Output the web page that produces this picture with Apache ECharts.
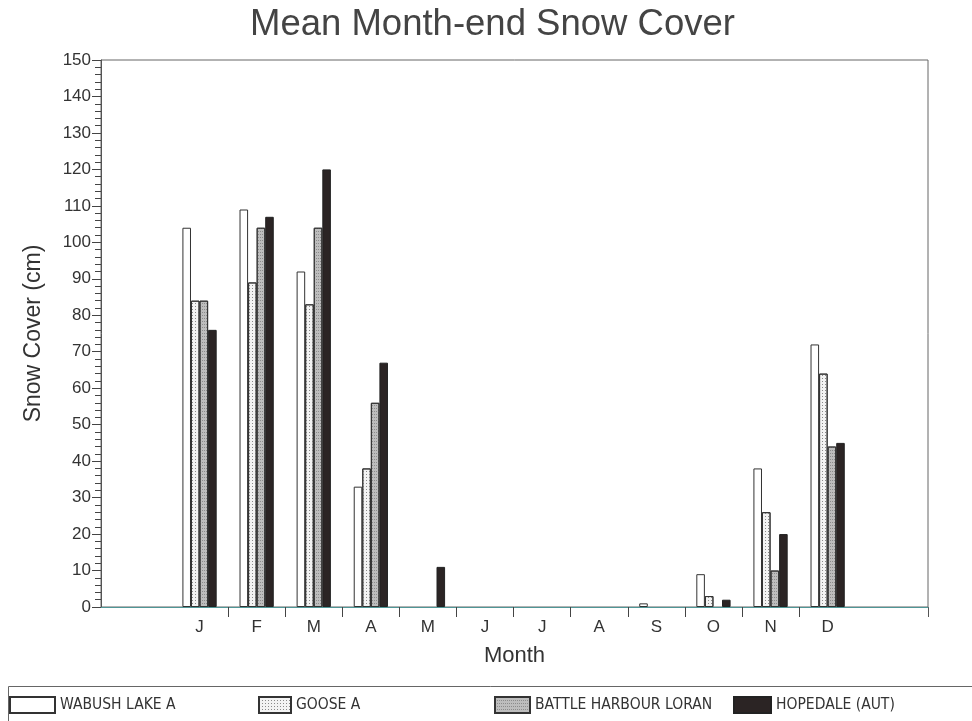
<!DOCTYPE html>
<html>
<head>
<meta charset="utf-8">
<title>Mean Month-end Snow Cover</title>
<script src="https://cdn.jsdelivr.net/npm/echarts@6/dist/echarts.min.js"></script>
<style>
  html, body { margin: 0; padding: 0; background: #ffffff; }
  #chart { width: 972px; height: 721px; }
</style>
</head>
<body>
<div id="chart"></div>
<script>
// Month-end mean snow depth (cm) at four Labrador stations
const months = ['J', 'F', 'M', 'A', 'M', 'J', 'J', 'A', 'S', 'O', 'N', 'D'];
const wabushLakeA = [104, 109, 92, 33, 0, 0, 0, 0, 1, 9, 38, 72];
const gooseA = [84, 89, 83, 38, 0, 0, 0, 0, 0, 3, 26, 64];
const battleHarbourLoran = [84, 104, 104, 56, 0, 0, 0, 0, 0, 0, 10, 44];
const hopedaleAut = [76, 107, 120, 67, 11, 0, 0, 0, 0, 2, 20, 45];

const stationNames = ['WABUSH LAKE A', 'GOOSE A', 'BATTLE HARBOUR LORAN', 'HOPEDALE (AUT)'];
const yTicks = { min: 0, max: 150, step: 10 };

const FONT = '"Liberation Sans", Arial, sans-serif';
const LEGEND_FONT = '"DejaVu Sans Condensed", "Liberation Sans Narrow", sans-serif';

// Frame box: 101..928 horizontally, 60..607 vertically
const frame = { left: 101, right: 44, top: 60, bottom: 114 };
// One month slot is ~57.1px wide; the twelve months sit centred in the frame
const slot = 57.1;
const barsLeft = 171;

const chart = echarts.init(document.getElementById('chart'), null, { renderer: 'canvas' });

const barStyles = [
  { color: '#ffffff', borderColor: '#333', borderWidth: 1 },
  {
    color: '#f3f3f3', borderColor: '#333', borderWidth: 1,
    decal: { symbol: 'rect', symbolSize: 1, dashArrayX: [1, 2], dashArrayY: [1, 2], color: '#8a8a8a', rotation: 0 }
  },
  {
    color: '#bdbdbd', borderColor: '#333', borderWidth: 1,
    decal: { symbol: 'rect', symbolSize: 1, dashArrayX: [1, 1], dashArrayY: [1, 2], color: '#8c8c8c', rotation: 0 }
  },
  { color: '#2b2424', borderColor: '#222', borderWidth: 1 }
];

const seriesData = [wabushLakeA, gooseA, battleHarbourLoran, hopedaleAut];

// A zero reading leaves no outline on the baseline
function barItems(values) {
  return values.map(v => (v === 0 ? { value: v, itemStyle: { borderWidth: 0, opacity: 0 } } : v));
}

const legendLefts = [9, 258, 494, 733];
const legendSwatchWidths = [45, 32, 35, 37];

const option = {
  backgroundColor: '#ffffff',
  animation: false,
  title: {
    text: 'Mean Month-end Snow Cover',
    left: 250,
    top: 6,
    padding: 0,
    textStyle: { fontFamily: FONT, fontSize: 36.5, fontWeight: 'normal', color: '#444' }
  },
  legend: stationNames.map((name, i) => ({
    data: [name],
    left: legendLefts[i],
    top: 696,
    padding: 0,
    itemWidth: legendSwatchWidths[i],
    itemHeight: 16,
    itemGap: 6,
    icon: 'rect',
    textStyle: { fontFamily: LEGEND_FONT, fontSize: 15.5, color: '#333', padding: [0, 0, 0, 0] }
  })),
  grid: [
    { left: frame.left, right: frame.right, top: frame.top, bottom: frame.bottom,
      show: true, borderColor: '#666', borderWidth: 1, backgroundColor: '#ffffff' },
    { left: barsLeft, width: slot * 12, top: frame.top, bottom: frame.bottom },
    { left: barsLeft + slot, width: slot * 10, top: frame.top, bottom: frame.bottom }
  ],
  xAxis: [
    {
      gridIndex: 0, type: 'value', min: 0, max: 1,
      name: 'Month', nameLocation: 'middle', nameGap: 38,
      nameTextStyle: { fontFamily: FONT, fontSize: 22, color: '#333' },
      axisLine: { show: true, lineStyle: { color: '#4f9696', width: 1.2 } },
      axisTick: { show: false }, axisLabel: { show: false }, splitLine: { show: false }
    },
    {
      gridIndex: 1, type: 'category', data: months,
      axisLine: { show: false }, axisTick: { show: false },
      axisLabel: { fontFamily: FONT, fontSize: 17, color: '#333', margin: 12 },
      splitLine: { show: false }
    },
    {
      // tick marks between the month groups
      gridIndex: 2, type: 'value', min: 0, max: 10, interval: 1,
      axisLine: { show: false },
      axisTick: { show: true, inside: false, length: 10, lineStyle: { color: '#444', width: 1 } },
      axisLabel: { show: false }, splitLine: { show: false }
    }
  ],
  yAxis: [
    {
      gridIndex: 0, type: 'value', min: yTicks.min, max: yTicks.max, interval: yTicks.step,
      name: 'Snow Cover (cm)', nameLocation: 'middle', nameGap: 56, nameRotate: 90,
      nameTextStyle: { fontFamily: FONT, fontSize: 23, color: '#333' },
      axisLine: { show: true, lineStyle: { color: '#555', width: 1 } },
      axisTick: { show: true, length: 9, lineStyle: { color: '#444' } },
      minorTick: { show: true, splitNumber: 5, length: 6, lineStyle: { color: '#444' } },
      axisLabel: { fontFamily: FONT, fontSize: 17, color: '#333', margin: 10 },
      splitLine: { show: false }
    },
    {
      gridIndex: 1, type: 'value', min: yTicks.min, max: yTicks.max,
      show: false
    },
    {
      gridIndex: 2, type: 'value', min: 0, max: 1, show: false
    }
  ],
  series: stationNames.map((name, i) => ({
    name: name,
    type: 'bar',
    xAxisIndex: 1,
    yAxisIndex: 1,
    data: barItems(seriesData[i]),
    barGap: '0%',
    barCategoryGap: '40%',
    itemStyle: barStyles[i]
  })),
  graphic: [
    {
      type: 'rect',
      shape: { x: 8.5, y: 686.5, width: 980, height: 60 },
      style: { fill: 'none', stroke: '#666', lineWidth: 1 },
      z: 0
    },
    {
      // right frame edge runs a little below the baseline
      type: 'line',
      shape: { x1: 928.5, y1: 607, x2: 928.5, y2: 617 },
      style: { stroke: '#555', lineWidth: 1 }
    }
  ]
};

chart.setOption(option);
</script>
</body>
</html>
